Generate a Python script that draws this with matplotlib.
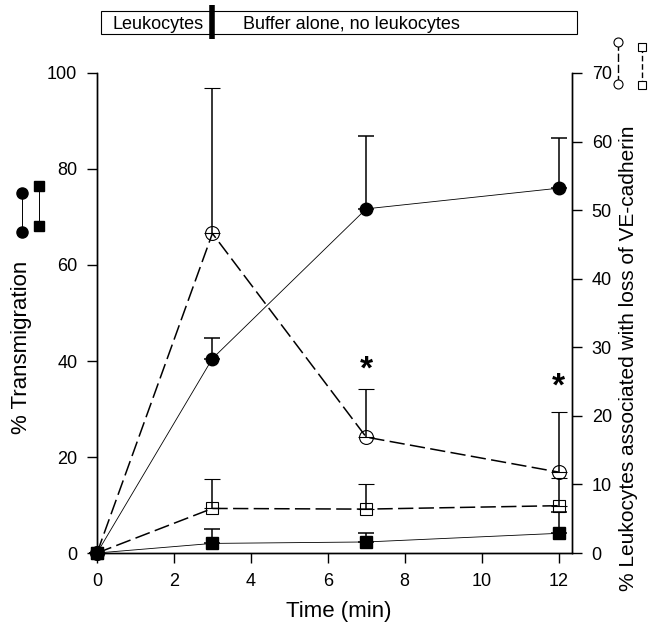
import numpy as np
import matplotlib
matplotlib.use("Agg")
import matplotlib.pyplot as plt
from matplotlib.lines import Line2D
from matplotlib.patches import Rectangle

plt.rcParams['font.family'] = ['Liberation Sans', 'DejaVu Sans']

# time points (min)
time = [0, 3, 7, 12]

# left axis, % transmigration
trans_circ = [0, 40.5, 71.7, 76.0]
trans_circ_err = [0, 4.3, 15.2, 10.5]
trans_sq = [0, 2.0, 2.3, 4.1]
trans_sq_err = [0, 3.0, 1.9, 4.5]

# right axis, % leukocytes with loss of VE-cadherin
ve_circ = [0, 46.6, 16.9, 11.8]
ve_circ_err = [0, 21.2, 7.0, 8.8]
ve_sq = [0, 6.5, 6.4, 6.9]
ve_sq_err = [0, 4.3, 3.7, 4.0]

# significance marks (x, left-axis y)
star_x = [7, 12]
star_y = [34.9, 31.4]

xticks = [0, 2, 4, 6, 8, 10, 12]
yticks_left = [0, 20, 40, 60, 80, 100]
yticks_right = [0, 10, 20, 30, 40, 50, 60, 70]

dash = (0, (10, 3.5))

fig = plt.figure(figsize=(6.48, 6.26), dpi=100)
ax = fig.add_axes([0.1497, 0.1166, 0.733, 0.7668])
ax2 = ax.twinx()

def upper(err):
    return [np.zeros(len(err)), np.array(err)]

# left axis series
ax.errorbar(time, trans_circ, yerr=upper(trans_circ_err), color='black', lw=0.6,
            marker='o', ms=9, mfc='black', mec='black', ecolor='black',
            elinewidth=1.1, capsize=6, capthick=1.1, clip_on=False, zorder=3)
ax.errorbar(time, trans_sq, yerr=upper(trans_sq_err), color='black', lw=0.6,
            marker='s', ms=8, mfc='black', mec='black', ecolor='black',
            elinewidth=1.1, capsize=6, capthick=1.1, clip_on=False, zorder=3)

# right axis series
ax2.errorbar(time, ve_circ, yerr=upper(ve_circ_err), color='black', lw=1.1,
             ls=dash, marker='o', ms=10, mfc='none', mec='black', mew=0.8,
             ecolor='black', elinewidth=1.1, capsize=6, capthick=1.1,
             clip_on=False, zorder=3)
ax2.errorbar(time, ve_sq, yerr=upper(ve_sq_err), color='black', lw=1.1,
             ls=dash, marker='s', ms=9, mfc='none', mec='black', mew=0.8,
             ecolor='black', elinewidth=1.1, capsize=6, capthick=1.1,
             clip_on=False, zorder=3)
# keep the filled circle at t=0 on top
ax2.plot(time[:1], trans_circ[:1], 'o', ms=9, color='black', clip_on=False,
         transform=ax.transData, zorder=5)

for sx, sy in zip(star_x, star_y):
    ax.text(sx, sy, '*', ha='center', va='bottom', fontsize=24,
            fontweight='bold')

ax.set_xlim(0, 12.35)
ax.set_ylim(0, 100)
ax2.set_ylim(0, 70)
ax.set_xticks(xticks)
ax.set_yticks(yticks_left)
ax2.set_yticks(yticks_right)

for a in (ax, ax2):
    a.spines['top'].set_visible(False)
    for s in a.spines.values():
        s.set_linewidth(1.0)
    a.tick_params(direction='out', length=7.2, width=1.0, pad=7, labelsize=13)

ax.set_xlabel('Time (min)', fontsize=16)
ax.xaxis.set_label_coords(0.51, -0.1)
ax.set_ylabel('% Transmigration', fontsize=16, va='center')
ax.yaxis.set_label_coords(-0.16, 0.428)
ax2.set_ylabel('% Leukocytes associated with loss of VE-cadherin',
               fontsize=15, va='center')
ax2.yaxis.set_label_coords(1.118, 0.405)

# legend keys drawn beside the axis labels
fig.add_artist(Line2D([0.034, 0.034], [0.6917, 0.6294], color='black', lw=0.7,
                      marker='o', ms=8, transform=fig.transFigure))
fig.add_artist(Line2D([0.0602, 0.0602], [0.7029, 0.6390], color='black', lw=0.7,
                      marker='s', ms=6.5, transform=fig.transFigure))
fig.add_artist(Line2D([0.9537, 0.9537], [0.9329, 0.8658], color='black', lw=1.0,
                      ls=(0, (6, 2)), marker='o', ms=6.5, mfc='white', mew=0.8,
                      transform=fig.transFigure))
fig.add_artist(Line2D([0.9907, 0.9907], [0.9249, 0.8642], color='black', lw=1.0,
                      ls=(0, (4, 2)), marker='s', ms=5.5, mfc='white', mew=0.8,
                      transform=fig.transFigure))

# treatment bar on top
fig.add_artist(Rectangle((0.156, 0.9457), 0.734, 0.0367, fill=False,
                         ec='black', lw=0.8, transform=fig.transFigure))
fig.add_artist(Line2D([0.327, 0.327], [0.938, 0.992], color='black', lw=4,
                      solid_capstyle='butt', transform=fig.transFigure))
fig.text(0.173, 0.9529, 'Leukocytes', fontsize=13, va='baseline')
fig.text(0.375, 0.9529, 'Buffer alone, no leukocytes', fontsize=13,
         va='baseline')

plt.savefig('out.png', dpi=100)
